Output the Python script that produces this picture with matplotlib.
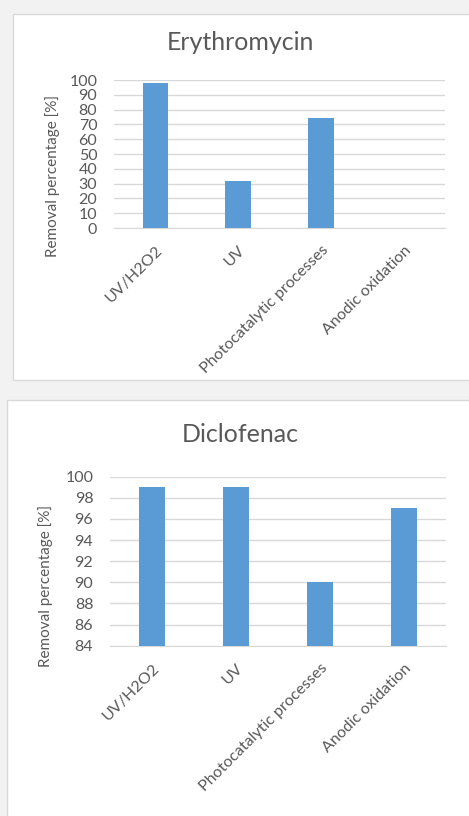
import matplotlib
matplotlib.use("Agg")
import matplotlib.pyplot as plt
from matplotlib.patches import Rectangle

# Removal efficiencies per treatment process
categories = ["UV/H2O2", "UV", "Photocatalytic processes", "Anodic oxidation"]
erythromycin = [98, 32, 74, 0]
diclofenac = [99, 99, 90, 97]

ery_ticks = list(range(0, 101, 10))
dic_ticks = list(range(84, 101, 2))

W, H = 469, 816
DPI = 100
BAR = "#5b9bd5"
GRID = "#d9d9d9"
TXT = "#595959"
FONT = ["Lato", "DejaVu Sans"]

plt.rcParams["font.family"] = FONT

fig = plt.figure(figsize=(W / DPI, H / DPI), dpi=DPI, facecolor="#f2f2f2")


def px_rect(x0, y0, x1, y1):
    """Convert pixel box (top-left origin) to figure fraction rect."""
    return [x0 / W, 1 - y1 / H, (x1 - x0) / W, (y1 - y0) / H]


# White chart panels
for (x0, y0, x1, y1) in [(13, 14, 470, 380), (7, 400, 470, 818)]:
    r = px_rect(x0, y0, x1, y1)
    fig.patches.append(Rectangle((r[0], r[1]), r[2], r[3], transform=fig.transFigure,
                                 facecolor="white", edgecolor=GRID, linewidth=1, zorder=-10))


def panel(rect, values, ticks, title, title_y, ylabel_xy):
    ax = fig.add_axes(px_rect(*rect))
    ax.set_zorder(5)
    ax.set_facecolor("none")
    x = range(len(categories))
    ax.bar(x, values, width=0.31, color=BAR, zorder=3)
    ax.set_xlim(-0.5, len(categories) - 0.5)
    ax.set_ylim(ticks[0], ticks[-1])
    ax.set_yticks(ticks)
    ax.set_yticklabels([str(t) for t in ticks], fontsize=11.5, color=TXT)
    ax.grid(axis="y", color=GRID, linewidth=1, zorder=0)
    for s in ["top", "right", "left"]:
        ax.spines[s].set_visible(False)
    ax.spines["bottom"].set_color(GRID)
    ax.tick_params(axis="both", length=0)
    ax.tick_params(axis="y", pad=12)
    ax.set_xticks(list(x))
    ax.set_xticklabels(categories, rotation=45, ha="right", rotation_mode="anchor",
                       fontsize=11.5, color=TXT)
    ax.tick_params(axis="x", pad=11)
    ax.set_ylabel("Removal percentage [%]", fontsize=11, color=TXT)
    ax.yaxis.set_label_coords(*ylabel_xy)
    fig.text(240 / W, 1 - title_y / H, title, ha="center", va="center",
             fontsize=18, color=TXT, zorder=6)
    return ax


panel((114, 80, 445, 228), erythromycin, ery_ticks, "Erythromycin", 43, (-0.163, 0.35))
panel((110, 476.7, 446, 645.7), diclofenac, dic_ticks, "Diclofenac", 435, (-0.17, 0.353))

fig.savefig("out.png", dpi=DPI, facecolor=fig.get_facecolor())
